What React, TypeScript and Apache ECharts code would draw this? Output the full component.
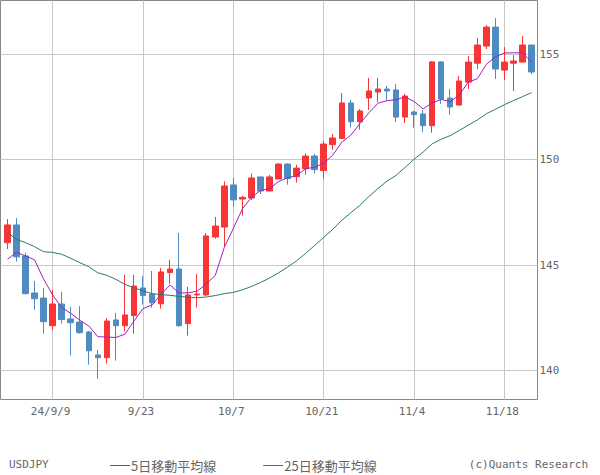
import React, { useEffect, useRef } from 'react';
import * as echarts from 'echarts';

const opens = [146.06, 146.90, 145.43, 143.67, 143.43, 142.12, 143.15, 142.44, 142.29, 141.82, 140.73, 140.60, 142.39, 142.12, 142.60, 143.91, 143.62, 143.16, 144.64, 144.81, 142.22, 143.58, 143.58, 146.33, 146.80, 148.80, 148.13, 148.18, 149.18, 148.51, 149.08, 149.79, 149.19, 149.57, 150.17, 149.48, 150.71, 151.00, 152.69, 151.80, 152.93, 153.21, 153.35, 153.31, 152.02, 152.26, 152.17, 151.61, 154.64, 152.92, 152.59, 153.68, 154.58, 155.39, 156.29, 154.25, 154.58, 154.63, 155.44];
const closes = [146.90, 145.39, 143.64, 143.40, 142.31, 143.15, 142.41, 142.26, 141.79, 140.93, 140.60, 142.34, 142.12, 142.63, 144.00, 143.55, 143.21, 144.67, 144.81, 142.12, 143.58, 143.62, 146.38, 146.85, 148.75, 148.09, 148.21, 149.13, 148.51, 149.18, 149.79, 149.10, 149.60, 150.17, 149.53, 150.74, 151.03, 152.69, 151.80, 152.31, 153.26, 153.35, 153.26, 152.02, 153.02, 152.14, 151.61, 154.64, 152.88, 152.50, 153.73, 154.63, 155.44, 156.29, 154.30, 154.63, 154.68, 155.44, 154.16];
const lows = [145.76, 145.16, 143.61, 142.88, 141.74, 141.93, 142.22, 140.70, 141.74, 140.27, 139.60, 140.32, 140.46, 141.84, 141.74, 143.12, 142.98, 142.93, 144.11, 142.07, 141.65, 142.98, 143.53, 146.25, 145.85, 147.77, 147.34, 148.09, 148.37, 148.51, 149.08, 148.81, 148.91, 149.29, 149.34, 149.10, 150.47, 151.00, 151.52, 151.42, 152.36, 152.74, 152.83, 151.79, 151.74, 151.52, 151.31, 151.28, 152.65, 152.13, 152.59, 153.35, 154.30, 155.25, 153.83, 153.78, 153.26, 154.63, 154.06];
const highs = [147.18, 147.23, 145.59, 144.24, 143.91, 143.81, 143.72, 143.02, 143.05, 141.87, 140.97, 142.48, 142.72, 144.53, 144.53, 144.48, 144.72, 144.86, 145.24, 146.52, 143.96, 144.57, 146.52, 147.28, 148.97, 149.13, 148.29, 149.35, 149.18, 149.27, 149.83, 149.83, 149.76, 150.30, 150.27, 150.89, 151.22, 153.16, 152.83, 152.40, 153.88, 153.88, 153.50, 153.59, 153.12, 152.32, 152.36, 154.68, 154.68, 153.35, 153.97, 154.92, 155.77, 156.39, 156.72, 155.34, 154.96, 155.87, 155.44];
const ma5 = [145.27, 145.60, 145.43, 145.24, 144.33, 143.58, 142.98, 142.71, 142.38, 142.11, 141.60, 141.58, 141.56, 141.72, 142.34, 142.93, 143.10, 143.61, 144.05, 143.67, 143.68, 143.76, 144.10, 144.51, 145.84, 146.74, 147.66, 148.21, 148.54, 148.62, 148.96, 149.14, 149.24, 149.57, 149.64, 149.83, 150.21, 150.83, 151.16, 151.71, 152.22, 152.68, 152.80, 152.84, 152.98, 152.76, 152.41, 152.69, 152.86, 152.75, 153.07, 153.68, 153.84, 154.52, 154.88, 155.06, 155.07, 155.07, 154.64];
const ma25 = [146.55, 146.22, 146.06, 145.87, 145.63, 145.60, 145.51, 145.32, 145.11, 144.92, 144.63, 144.51, 144.32, 144.08, 143.92, 143.77, 143.64, 143.60, 143.56, 143.51, 143.47, 143.45, 143.48, 143.55, 143.64, 143.70, 143.82, 143.98, 144.17, 144.38, 144.63, 144.90, 145.20, 145.55, 145.93, 146.31, 146.69, 147.12, 147.48, 147.83, 148.25, 148.63, 148.98, 149.25, 149.63, 150.02, 150.36, 150.75, 150.97, 151.14, 151.38, 151.64, 151.88, 152.18, 152.39, 152.61, 152.80, 152.99, 153.18];
const tickIndex = [5, 15, 25, 35, 45, 55];
const tickLabels = ['24/9/9', '9/23', '10/7', '10/21', '11/4', '11/18'];
const yTicks = [140, 145, 150, 155];

const RED = '#f83434';
const BLUE = '#4e8bc0';
const PURPLE = '#a020c0';
const TEAL = '#2a7a70';
const MONO = 'DejaVu Sans Mono';

export default function App() {
  const ref = useRef<HTMLDivElement>(null);
  useEffect(() => {
    document.body.style.margin = '0';
    const chart = echarts.init(ref.current as HTMLDivElement, null, { renderer: 'svg' });
    const candleData = opens.map((o, i) => [i, o, closes[i], lows[i], highs[i]]);
    chart.setOption({
      animation: false,
      backgroundColor: '#ffffff',
      title: [
        { text: 'USDJPY', left: 9, top: 459, padding: 0, textStyle: { fontFamily: MONO, fontSize: 11, fontWeight: 'normal', color: '#666' } },
        { text: '(c)Quants Research', right: 12, top: 459, padding: 0, textStyle: { fontFamily: MONO, fontSize: 11, fontWeight: 'normal', color: '#666' } },
      ],
      legend: {
        data: [
          { name: '5日移動平均線', icon: 'rect', itemStyle: { color: PURPLE } },
          { name: '25日移動平均線', icon: 'rect', itemStyle: { color: TEAL } },
        ],
        left: 110,
        top: 459,
        padding: 0,
        itemWidth: 20,
        itemHeight: 1,
        itemGap: 47,
        textStyle: { fontFamily: 'Noto Sans CJK JP', fontSize: 13, color: '#666', padding: [0, 0, 0, -4] },
      },
      grid: { left: 0.5, top: 0.5, width: 537, height: 399, show: true, borderColor: '#888', borderWidth: 1, backgroundColor: 'transparent' },
      xAxis: {
        type: 'value',
        min: -0.77,
        max: 58.66,
        axisLine: { show: false },
        axisTick: { show: false, customValues: tickIndex },
        splitLine: { show: true, lineStyle: { color: '#c8c8c8', width: 1 } },
        axisLabel: {
          customValues: tickIndex,
          formatter: (v: number) => {
            const k = tickIndex.indexOf(Math.round(v));
            return k >= 0 ? tickLabels[k] : '';
          },
          color: '#666',
          fontFamily: MONO,
          fontSize: 11,
          margin: 6,
          padding: [0, 4, 0, 0],
        },
      },
      yAxis: {
        type: 'value',
        position: 'right',
        min: 138.617,
        max: 157.553,
        axisLine: { show: false },
        axisTick: { show: false, customValues: yTicks },
        splitLine: { show: true, lineStyle: { color: '#c8c8c8', width: 1 } },
        axisLabel: {
          customValues: yTicks,
          color: '#666',
          fontFamily: MONO,
          fontSize: 11,
          margin: 2,
          padding: [5, 0, 0, 0],
        },
      },
      series: [
        {
          name: 'USDJPY',
          type: 'candlestick',
          data: candleData,
          encode: { x: 0, y: [1, 2, 3, 4] },
          barWidth: 6,
          itemStyle: { color: RED, color0: BLUE, borderColor: RED, borderColor0: BLUE, borderWidth: 1 },
        },
        {
          name: '5日移動平均線',
          type: 'line',
          data: ma5.map((v, i) => [i, v]),
          symbol: 'none',
          color: PURPLE,
          lineStyle: { color: PURPLE, width: 1 },
        },
        {
          name: '25日移動平均線',
          type: 'line',
          data: ma25.map((v, i) => [i, v]),
          symbol: 'none',
          color: TEAL,
          lineStyle: { color: TEAL, width: 1 },
        },
      ],
    });
    return () => chart.dispose();
  }, []);
  return <div ref={ref} style={{ width: 600, height: 475 }} />;
}
